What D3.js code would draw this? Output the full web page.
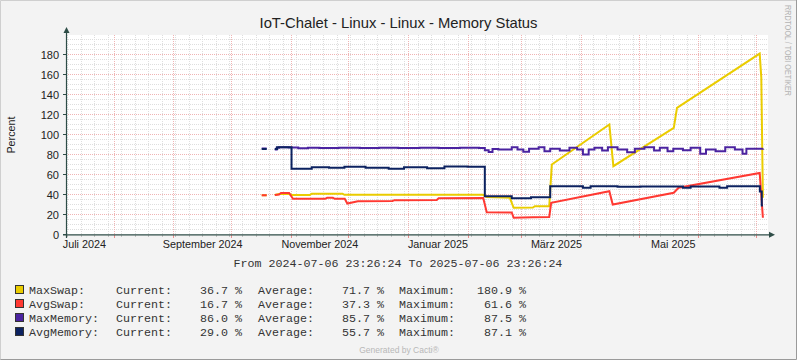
<!DOCTYPE html>
<html><head><meta charset="utf-8">
<script src="https://cdn.jsdelivr.net/npm/d3@7"></script>
<style>html,body{margin:0;padding:0;background:#F3F3F3;} svg{display:block;}</style>
</head><body><svg id="chart" width="797" height="360"></svg>
<script>
// ---------------- data ----------------
const title = "IoT-Chalet - Linux - Linux - Memory Status";
const yLabel = "Percent";
const timeStart = "2024-07-06 23:26:24";
const timeEnd = "2025-07-06 23:26:24";
const footerText = "From 2024-07-06 23:26:24 To 2025-07-06 23:26:24";
const yTicks = [0, 20, 40, 60, 80, 100, 120, 140, 160, 180];
const xLabelTexts = ["Juli 2024", "September 2024", "November 2024", "Januar 2025", "März 2025", "Mai 2025"];
const xLabelDates = ["2024-07-16 19", "2024-09-16 07", "2024-11-16 05", "2025-01-16 15", "2025-03-19 05", "2025-05-19 00"];
const seriesNames = ["MaxSwap:", "AvgSwap:", "MaxMemory:", "AvgMemory:"];
const currentValues = [36.7, 16.7, 86.0, 29.0];
const averageValues = [71.7, 37.3, 85.7, 55.7];
const maximumValues = [180.9, 61.6, 87.5, 87.1];
const unit = "%";

const maxSwap = [
  ["2024-10-17", 39.3], ["2024-10-19 14", 39.3], ["2024-10-20", null],
  ["2024-10-23 19", 39.5], ["2024-10-26", 40.5], ["2024-10-31 06", 40.5], ["2024-11-01 12", 39.5],
  ["2024-11-11", 39.5], ["2024-11-12", 40.8], ["2024-11-28", 40.8], ["2024-11-29", 39.7],
  ["2025-02-09", 39.7], ["2025-02-11", 37.5], ["2025-02-23", 36.7], ["2025-02-25", 26.7],
  ["2025-03-07", 27.0], ["2025-03-08", 28.3], ["2025-03-15 12", 28.3], ["2025-03-16 20", 70.0],
  ["2025-04-15 18", 110.0], ["2025-04-17 20", 68.3], ["2025-05-19 06", 106.7], ["2025-05-20 22", 126.7],
  ["2025-07-02 22", 180.9], ["2025-07-03 18", 157.0], ["2025-07-04 14", 36.7]
];
const avgSwap = [
  ["2024-10-17", 39.3], ["2024-10-19 14", 39.3], ["2024-10-20", null],
  ["2024-10-23 19", 39.5], ["2024-10-26", 40.0], ["2024-10-27", 41.5], ["2024-10-31 06", 41.5],
  ["2024-11-02 06", 35.7], ["2024-11-19", 35.7], ["2024-11-20", 36.7], ["2024-11-23", 36.7],
  ["2024-11-24", 35.7], ["2024-11-29 04", 35.7], ["2024-11-30 12", 31.0], ["2024-12-06", 33.3],
  ["2024-12-24", 33.5], ["2024-12-25", 34.3], ["2025-01-16", 34.5], ["2025-01-17", 36.3],
  ["2025-02-09 04", 36.5], ["2025-02-11", 22.3], ["2025-02-24", 22.0], ["2025-02-25", 16.7],
  ["2025-03-07", 17.3], ["2025-03-15 12", 17.5], ["2025-03-16 12", 31.7], ["2025-04-15 18", 43.3],
  ["2025-04-17 12", 30.0], ["2025-05-19 06", 41.7], ["2025-05-21 18", 46.7], ["2025-07-02 22", 61.6],
  ["2025-07-04 14", 16.7]
];
const maxMemory = [
  ["2024-10-17", 86.0], ["2024-10-19 14", 86.0], ["2024-10-20", null],
  ["2024-10-23 19", 85.0], ["2024-10-24 19", 86.7], ["2024-10-26", 87.3], ["2024-10-31", 87.0],
  ["2024-11-05", 86.3], ["2024-11-10", 86.7], ["2024-11-16", 86.5], ["2024-11-26", 86.8],
  ["2024-12-07", 86.4], ["2024-12-17", 86.7], ["2024-12-27", 86.5], ["2025-01-07", 86.7],
  ["2025-01-17", 86.4], ["2025-01-28", 86.7], ["2025-02-07", 86.5], ["2025-02-10", 84.3],
  ["2025-02-12", 82.5], ["2025-02-14", 85.5], ["2025-02-17", 85.0], ["2025-02-24", 87.3],
  ["2025-02-27", 85.0], ["2025-03-02", 82.7], ["2025-03-05", 85.7], ["2025-03-10", 87.3],
  ["2025-03-13", 83.3], ["2025-03-16", 85.7], ["2025-03-21", 84.0], ["2025-03-26", 86.7],
  ["2025-03-30", 85.0], ["2025-04-02", 80.0], ["2025-04-05", 85.0], ["2025-04-08", 86.7],
  ["2025-04-12", 84.0], ["2025-04-15", 87.3], ["2025-04-20", 85.0], ["2025-04-25", 82.3],
  ["2025-04-29", 85.7], ["2025-05-04", 87.3], ["2025-05-09", 84.0], ["2025-05-12", 86.7],
  ["2025-05-16", 83.3], ["2025-05-19", 85.7], ["2025-05-24", 84.3], ["2025-05-28", 86.7],
  ["2025-06-02", 80.7], ["2025-06-05", 85.0], ["2025-06-10", 83.3], ["2025-06-15", 87.3],
  ["2025-06-20", 85.0], ["2025-06-24", 80.7], ["2025-06-26", 85.7], ["2025-07-04 14", 86.0]
];
const avgMemory = [
  ["2024-10-17", 85.5], ["2024-10-19 14", 85.5], ["2024-10-20", null],
  ["2024-10-23 19", 85.5], ["2024-10-25", 87.3], ["2024-11-01 12", 65.7], ["2024-11-12", 67.3],
  ["2024-11-21", 66.7], ["2024-11-29", 67.7], ["2024-12-10", 66.7], ["2024-12-22", 65.7],
  ["2024-12-30", 67.3], ["2025-01-11", 66.3], ["2025-01-20", 68.0], ["2025-02-01", 67.7],
  ["2025-02-10", 38.3], ["2025-02-24", 36.3], ["2025-03-06", 37.3], ["2025-03-16", 48.3],
  ["2025-04-02", 46.7], ["2025-04-06", 48.3], ["2025-04-20", 47.7], ["2025-05-02", 48.0],
  ["2025-05-24", 46.7], ["2025-05-28", 48.0], ["2025-06-12", 46.7], ["2025-06-16", 48.3],
  ["2025-07-03", 43.0], ["2025-07-04 00", 29.0], ["2025-07-04 14", 29.0]
];

// ---------------- styles ----------------
const colors = ["#EACC00", "#FF3932", "#4B23A0", "#0C2260"];
const W = 797, H = 360;
const plot = {left: 66, right: 768, top: 35, bottom: 235};

const pFull = d3.timeParse("%Y-%m-%d %H:%M:%S");
const pHour = d3.timeParse("%Y-%m-%d %H");
const parseD = s => s.length === 10 ? pHour(s + " 00") : pHour(s);

const x = d3.scaleTime().domain([pFull(timeStart), pFull(timeEnd)]).range([65.5, 767.5]);
const y = d3.scaleLinear().domain([0, 200]).range([234.5, 34.5]);

const svg = d3.select("#chart");
svg.append("rect").attr("x", 0).attr("y", 0).attr("width", W).attr("height", H).attr("fill", "#F3F3F3");
// frame
svg.append("path").attr("d", `M0.5,${H} V0.5 H${W}`).attr("fill", "none").attr("stroke", "#CFCFCF");
svg.append("path").attr("d", `M0.5,${H-0.5} H${W-0.5} V0`).attr("fill", "none").attr("stroke", "#9A9A9A");

svg.append("rect").attr("x", plot.left).attr("y", plot.top)
  .attr("width", plot.right - plot.left).attr("height", plot.bottom - plot.top).attr("fill", "#FFFFFF");

const grid = svg.append("g");
const minorCol = "#DEDEDE", majorCol = "#F0B4B4";
// minor horizontal
d3.range(5, 201, 5).filter(v => v % 20 !== 0).forEach(v => {
  grid.append("line").attr("x1", plot.left).attr("x2", plot.right).attr("y1", y(v)).attr("y2", y(v))
    .attr("stroke", minorCol).attr("stroke-dasharray", "1,1");
});
// minor vertical (weeks)
const xs = x.domain();
d3.timeMonday.range(xs[0], xs[1]).forEach(d => {
  const px = Math.round(x(d)) + 0.5;
  grid.append("line").attr("x1", px).attr("x2", px).attr("y1", plot.top).attr("y2", plot.bottom)
    .attr("stroke", minorCol).attr("stroke-dasharray", "1,1");
  svg.append("line").attr("x1", px).attr("x2", px).attr("y1", 235).attr("y2", 237).attr("stroke", "#C4C4C4");
});
// major horizontal
yTicks.forEach(v => {
  if (v === 0) return;
  grid.append("line").attr("x1", plot.left).attr("x2", plot.right).attr("y1", y(v)).attr("y2", y(v))
    .attr("stroke", majorCol).attr("stroke-dasharray", "1,1");
});
// major vertical (months)
d3.timeMonth.range(xs[0], xs[1]).forEach(d => {
  const px = Math.round(x(d)) + 0.5;
  grid.append("line").attr("x1", px).attr("x2", px).attr("y1", plot.top).attr("y2", plot.bottom)
    .attr("stroke", majorCol).attr("stroke-dasharray", "1,1");
  svg.append("line").attr("x1", px).attr("x2", px).attr("y1", 235).attr("y2", 238).attr("stroke", "#E89090");
});

// data lines
const seriesData = [maxSwap, avgSwap, maxMemory, avgMemory];
const curves = [d3.curveLinear, d3.curveLinear, d3.curveStepAfter, d3.curveStepAfter];
seriesData.forEach((s, i) => {
  const pts = s.map(([d, v]) => ({d: parseD(d), v}));
  const line = d3.line().defined(p => p.v !== null).x(p => x(p.d)).y(p => y(p.v)).curve(curves[i]);
  svg.append("path").attr("d", line(pts)).attr("fill", "none").attr("stroke", colors[i])
    .attr("stroke-width", 2).attr("stroke-linejoin", "miter");
});

// axes
const axisCol = "#2E4D47";
svg.append("line").attr("x1", 66.5).attr("x2", 66.5).attr("y1", 238).attr("y2", 31).attr("stroke", axisCol).attr("stroke-width", 1.2);
svg.append("path").attr("d", "M66.5,27 L63.5,33 L69.5,33 Z").attr("fill", axisCol);
svg.append("line").attr("x1", 63).attr("x2", 770).attr("y1", 234.8).attr("y2", 234.8).attr("stroke", axisCol).attr("stroke-width", 1.2);
svg.append("path").attr("d", "M775,234.8 L769,231.8 L769,237.8 Z").attr("fill", axisCol);

// y ticks & labels
const fontSans = "'Liberation Sans', Arial, sans-serif";
yTicks.forEach(v => {
  svg.append("line").attr("x1", 63).attr("x2", 66).attr("y1", y(v)).attr("y2", y(v)).attr("stroke", axisCol);
  svg.append("text").attr("x", 59).attr("y", y(v) + 4).attr("text-anchor", "end")
    .attr("font-family", fontSans).attr("font-size", 11).attr("fill", "#222").text(v);
});
// x labels
xLabelTexts.forEach((t, i) => {
  svg.append("text").attr("x", x(parseD(xLabelDates[i]))).attr("y", 248).attr("text-anchor", "middle")
    .attr("font-family", fontSans).attr("font-size", 10.8).attr("fill", "#222").text(t);
});

// title
svg.append("text").attr("x", 398.5).attr("y", 28).attr("text-anchor", "middle")
  .attr("font-family", fontSans).attr("font-size", 14.8).attr("fill", "#222").text(title);
// y label
svg.append("text").attr("transform", "translate(15,135) rotate(-90)").attr("text-anchor", "middle")
  .attr("font-family", fontSans).attr("font-size", 10.8).attr("fill", "#222").text(yLabel);
// watermark
svg.append("text").attr("transform", "translate(784.5,5) rotate(90)").attr("text-anchor", "start")
  .attr("font-family", fontSans).attr("font-size", 9).attr("fill", "#B4B4B4")
  .attr("textLength", 91).attr("lengthAdjust", "spacingAndGlyphs").text("RRDTOOL / TOBI OETIKER");

// footer time range
const fontMono = "'Liberation Mono', 'DejaVu Sans Mono', monospace";
svg.append("text").attr("x", 398).attr("y", 267).attr("text-anchor", "middle")
  .attr("font-family", fontMono).attr("font-size", 11.67).attr("fill", "#333").text(footerText);

// legend
seriesNames.forEach((n, i) => {
  const by = 294 + i * 14;
  svg.append("rect").attr("x", 15.5).attr("y", by - 8.5).attr("width", 8).attr("height", 8)
    .attr("fill", colors[i]).attr("stroke", "#333").attr("stroke-width", 1);
  const g = svg.append("g").attr("font-family", fontMono).attr("font-size", 11.67).attr("fill", "#333");
  g.append("text").attr("x", 29).attr("y", by).text(n);
  g.append("text").attr("x", 116).attr("y", by).text("Current:");
  g.append("text").attr("x", 242).attr("y", by).attr("text-anchor", "end").text(currentValues[i].toFixed(1) + " " + unit);
  g.append("text").attr("x", 258).attr("y", by).text("Average:");
  g.append("text").attr("x", 384).attr("y", by).attr("text-anchor", "end").text(averageValues[i].toFixed(1) + " " + unit);
  g.append("text").attr("x", 399).attr("y", by).text("Maximum:");
  g.append("text").attr("x", 526).attr("y", by).attr("text-anchor", "end").text(maximumValues[i].toFixed(1) + " " + unit);
});

svg.append("text").attr("x", 399).attr("y", 352.5).attr("text-anchor", "middle")
  .attr("font-family", fontSans).attr("font-size", 8.5).attr("fill", "#B8B8B8").text("Generated by Cacti®");
</script></body></html>
